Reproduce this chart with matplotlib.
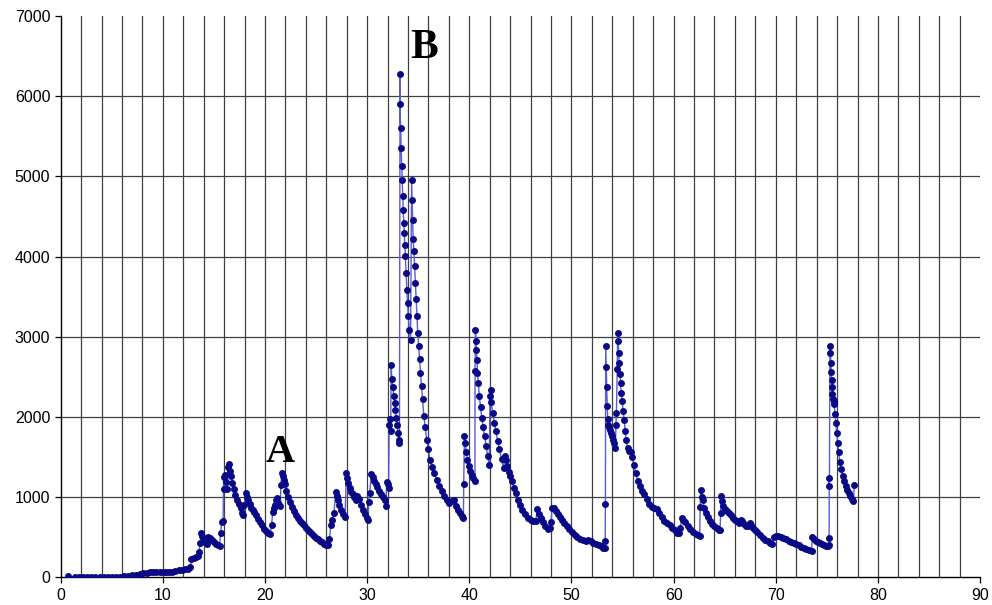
import numpy as np
import matplotlib
matplotlib.use('Agg')
from matplotlib import pyplot as plt

# readings, one row per event (day, value)
days = [
    0.72,
    1.4, 1.8, 2.2, 2.6, 3.0, 3.4, 3.8, 4.2, 4.6, 5.0, 5.4, 5.8, 6.2, 6.6, 7.0, 7.4, 7.8, 8.1, 8.4, 8.7,
    9.0, 9.3, 9.7, 10.0, 10.3, 10.6, 10.9, 11.2, 11.6, 11.9, 12.2, 12.5, 12.7,
    12.8, 13.0, 13.2, 13.4, 13.55, 13.65, 13.75, 13.85, 14.0, 14.15, 14.3, 14.45, 14.6, 14.8, 15.0, 15.2, 15.4, 15.55,
    15.65, 15.75, 15.9,
    15.95, 16.0, 16.1, 16.2, 16.3, 16.4, 16.5, 16.6, 16.7, 16.8, 16.95, 17.1, 17.3, 17.45, 17.6, 17.75, 17.85,
    17.95, 18.1, 18.2, 18.35, 18.5, 18.65, 18.8, 18.95, 19.1, 19.3, 19.5, 19.7, 19.9, 20.1, 20.3, 20.5,
    20.65, 20.75, 20.85, 21.0, 21.1, 21.2, 21.3, 21.4, 21.5,
    21.55, 21.65, 21.75, 21.85, 21.95, 22.1, 22.25, 22.4, 22.6, 22.8, 23.0, 23.2, 23.4, 23.6, 23.8, 24.0,
    24.2, 24.4, 24.6, 24.8, 25.0, 25.2, 25.4, 25.6, 25.8, 26.0, 26.15,
    26.3, 26.45, 26.6, 26.75, 26.9, 27.0, 27.1, 27.25, 27.45, 27.65, 27.85,
    27.95, 28.05, 28.15, 28.3, 28.45, 28.6, 28.75, 28.9, 29.05, 29.2, 29.35, 29.55, 29.75, 29.95, 30.1,
    30.15, 30.25, 30.4, 30.55, 30.7, 30.85, 31.0, 31.2, 31.4, 31.55, 31.7, 31.85,
    31.9, 32.0, 32.1,
    32.15, 32.2, 32.3, 32.35, 32.42, 32.5, 32.6, 32.68, 32.76, 32.85, 32.95, 33.02, 33.1, 33.16,
    33.22, 33.2, 33.28, 33.32, 33.38, 33.42, 33.48, 33.53, 33.58, 33.63, 33.68, 33.74, 33.8, 33.87, 33.95,
    34.03, 34.12, 34.25,
    34.35, 34.4, 34.45, 34.5, 34.57, 34.65, 34.72, 34.8, 34.87, 34.95, 35.05, 35.13, 35.22, 35.32, 35.42,
    35.55, 35.68, 35.82, 35.98, 36.15, 36.35, 36.55, 36.8, 37.05, 37.3, 37.55, 37.8, 38.05, 38.3, 38.5,
    38.7, 38.9, 39.1, 39.3, 39.42,
    39.45, 39.52, 39.6, 39.7, 39.82, 39.95, 40.1, 40.25, 40.4, 40.55,
    40.56, 40.6, 40.65, 40.7, 40.75, 40.8, 40.88, 40.98, 41.1, 41.22, 41.35, 41.5, 41.65, 41.8, 41.95,
    42.02, 42.08, 42.15, 42.28, 42.45, 42.6, 42.78, 42.95, 43.15, 43.35, 43.45, 43.55, 43.7, 43.85, 44.0,
    44.2, 44.4, 44.6, 44.8, 45.0, 45.2, 45.45, 45.7, 46.0, 46.25, 46.5,
    46.65, 46.8, 47.0, 47.2, 47.45, 47.7, 47.9, 48.0, 48.1, 48.25, 48.45, 48.65, 48.85, 49.05, 49.3, 49.55,
    49.8, 50.05, 50.3, 50.55, 50.8, 51.1, 51.4, 51.65, 51.9, 52.15, 52.4, 52.65, 52.9, 53.1, 53.25, 53.3,
    53.32, 53.35, 53.4, 53.45, 53.5, 53.55, 53.62, 53.7, 53.8, 53.9, 54.0, 54.1, 54.2, 54.3,
    54.35, 54.4, 54.48, 54.52, 54.58, 54.62, 54.68, 54.74, 54.8, 54.88, 54.96, 55.05, 55.15, 55.25, 55.35,
    55.5, 55.65, 55.8, 55.95, 56.1, 56.3, 56.5, 56.7, 56.9, 57.1, 57.35, 57.6, 57.85, 58.1, 58.35, 58.6,
    58.85, 59.1, 59.35, 59.6, 59.85, 60.1, 60.35, 60.5,
    60.65, 60.8, 60.95, 61.15, 61.4, 61.65, 61.9, 62.15, 62.4, 62.55,
    62.6, 62.65, 62.75, 62.85, 63.0, 63.2, 63.4, 63.6, 63.8, 64.0, 64.2, 64.4, 64.55,
    64.6, 64.65, 64.75, 64.85, 65.0, 65.2, 65.4, 65.6, 65.8, 66.0, 66.2, 66.4, 66.55, 66.7, 66.9, 67.1,
    67.3, 67.45, 67.6, 67.8, 68.0, 68.2, 68.45, 68.7, 68.95, 69.2, 69.45, 69.65,
    69.8, 70.0, 70.25, 70.5, 70.75, 71.0, 71.25, 71.5, 71.75, 72.0, 72.25, 72.5, 72.75, 73.0, 73.25, 73.5,
    73.58, 73.7, 73.9, 74.1, 74.3, 74.5, 74.7, 74.9, 75.1, 75.2, 75.22,
    75.24, 75.25, 75.3, 75.35, 75.4, 75.43, 75.46, 75.5, 75.53, 75.58, 75.65, 75.72, 75.8, 75.88, 75.96,
    76.05, 76.15, 76.28, 76.4, 76.55, 76.7, 76.85, 77.0, 77.15, 77.3, 77.45, 77.6, 77.68,
]
values = [
    15,
    3, 3, 4, 4, 5, 5, 6, 6, 7, 8, 9, 10, 14, 20, 25, 30, 38, 50, 60, 70,
    72, 68, 70, 66, 62, 64, 68, 80, 90, 95, 100, 110, 130,
    225, 245, 255, 270, 320, 430, 550, 520, 480, 440, 415, 500, 490, 465, 440, 420, 405, 395,
    550, 690, 710,
    1250, 1100, 1280, 1190, 1100, 1380, 1420, 1330, 1260, 1180, 1100, 1030, 960, 910, 860, 810, 780,
    900, 1050, 1000, 960, 910, 870, 840, 815, 780, 730, 690, 650, 610, 575, 560, 545,
    650, 820, 860, 900, 960, 990, 930, 900, 890,
    1150, 1300, 1270, 1220, 1160, 1080, 1000, 940, 880, 830, 785, 745, 710, 680, 650, 620,
    590, 565, 540, 515, 495, 480, 460, 440, 420, 405, 400,
    485, 650, 720, 800, 1060, 1010, 960, 900, 840, 790, 755,
    1300, 1240, 1180, 1120, 1070, 1040, 1000, 960, 1010, 980, 900, 840, 790, 745, 720,
    940, 1050, 1290, 1250, 1200, 1160, 1130, 1080, 1040, 1000, 960, 890,
    1190, 1160, 1120,
    1900, 1970, 1820, 2650, 2470, 2380, 2260, 2170, 2090, 1990, 1900, 1800, 1720, 1675,
    6280, 5900, 5600, 5360, 5130, 4960, 4760, 4580, 4420, 4290, 4150, 4010, 3800, 3590, 3420,
    3260, 3090, 2960,
    4960, 4710, 4460, 4220, 4070, 3880, 3670, 3470, 3260, 3050, 2880, 2720, 2550, 2390, 2220,
    2010, 1880, 1720, 1600, 1470, 1380, 1300, 1220, 1140, 1080, 1020, 960, 930, 950, 960,
    890, 840, 800, 765, 740,
    1160, 1770, 1680, 1560, 1470, 1390, 1330, 1280, 1240, 1200,
    2570, 3090, 2950, 2840, 2710, 2550, 2420, 2260, 2120, 1990, 1880, 1760, 1640, 1510, 1400,
    2260, 2340, 2190, 2050, 1930, 1820, 1700, 1600, 1480, 1360, 1520, 1460, 1390, 1320, 1270,
    1200, 1120, 1050, 970, 900, 840, 790, 745, 715, 700, 705,
    850, 790, 740, 690, 640, 600, 620, 690, 860, 860, 830, 790, 750, 715, 680, 645,
    610, 570, 530, 500, 480, 470, 450, 470, 455, 435, 420, 405, 390, 370, 365, 450,
    920, 2880, 2630, 2380, 2140, 1970, 1900, 1870, 1840, 1800, 1760, 1720, 1680, 1620,
    1900, 2050, 2600, 3050, 2950, 2800, 2670, 2540, 2420, 2300, 2200, 2080, 1960, 1830, 1720,
    1620, 1580, 1560, 1500, 1400, 1300, 1200, 1140, 1080, 1040, 980, 910, 880, 870, 850, 800,
    750, 710, 680, 660, 620, 590, 560, 550,
    620, 740, 720, 690, 640, 600, 570, 540, 525, 515,
    880, 1090, 1000, 960, 870, 800, 750, 710, 670, 640, 615, 595, 590,
    800, 1010, 950, 890, 850, 830, 810, 780, 745, 715, 700, 675, 720, 700, 665, 645,
    640, 680, 650, 620, 590, 565, 530, 495, 470, 450, 432, 423,
    510, 515, 512, 505, 495, 475, 460, 445, 430, 415, 400, 385, 370, 355, 345, 336,
    510, 480, 460, 440, 425, 415, 405, 398, 392, 400, 490,
    1240, 1140, 2890, 2800, 2670, 2560, 2460, 2370, 2290, 2230, 2200, 2160, 2040, 1920, 1800,
    1680, 1560, 1440, 1350, 1270, 1200, 1140, 1090, 1050, 1010, 980, 950, 1150,
]

labels = {'A': (21.5, 1330), 'B': (35.6, 6370)}

fig = plt.figure(figsize=(9.92, 6.05), dpi=100)
ax = fig.add_axes([0.0612, 0.0455, 0.9268, 0.928])

for v in range(2, 90, 2):
    ax.axvline(v, color='#404040', lw=0.9, zorder=1)
for v in range(1000, 7000, 1000):
    ax.axhline(v, color='#404040', lw=0.9, zorder=1)

ax.plot(days, values, color='#5b5bd6', lw=1.0, zorder=2)
ax.plot(days, values, ls='none', marker='o', ms=4.0, mfc='#0a0a86', mec='#0a0a86', zorder=3)

ax.text(*labels['A'], 'A', ha='center', va='bottom', fontsize=29,
        family='Liberation Serif', fontweight='bold')
ax.text(*labels['B'], 'B', ha='center', va='bottom', fontsize=30,
        family='Liberation Serif', fontweight='bold')

ax.set_xlim(0, 90)
ax.set_ylim(0, 7000)
ax.set_xticks(range(0, 91, 10))
ax.set_yticks(range(0, 7001, 1000))
ax.tick_params(direction='out', length=4.5, width=0.9, color='black', labelsize=11.5, pad=3)
for lab in ax.get_xticklabels() + ax.get_yticklabels():
    lab.set_family('Liberation Sans')
for s in ('top', 'right'):
    ax.spines[s].set_visible(False)
for s in ('left', 'bottom'):
    ax.spines[s].set_linewidth(1.0)
    ax.spines[s].set_color('black')

fig.savefig('out.png', dpi=100)
